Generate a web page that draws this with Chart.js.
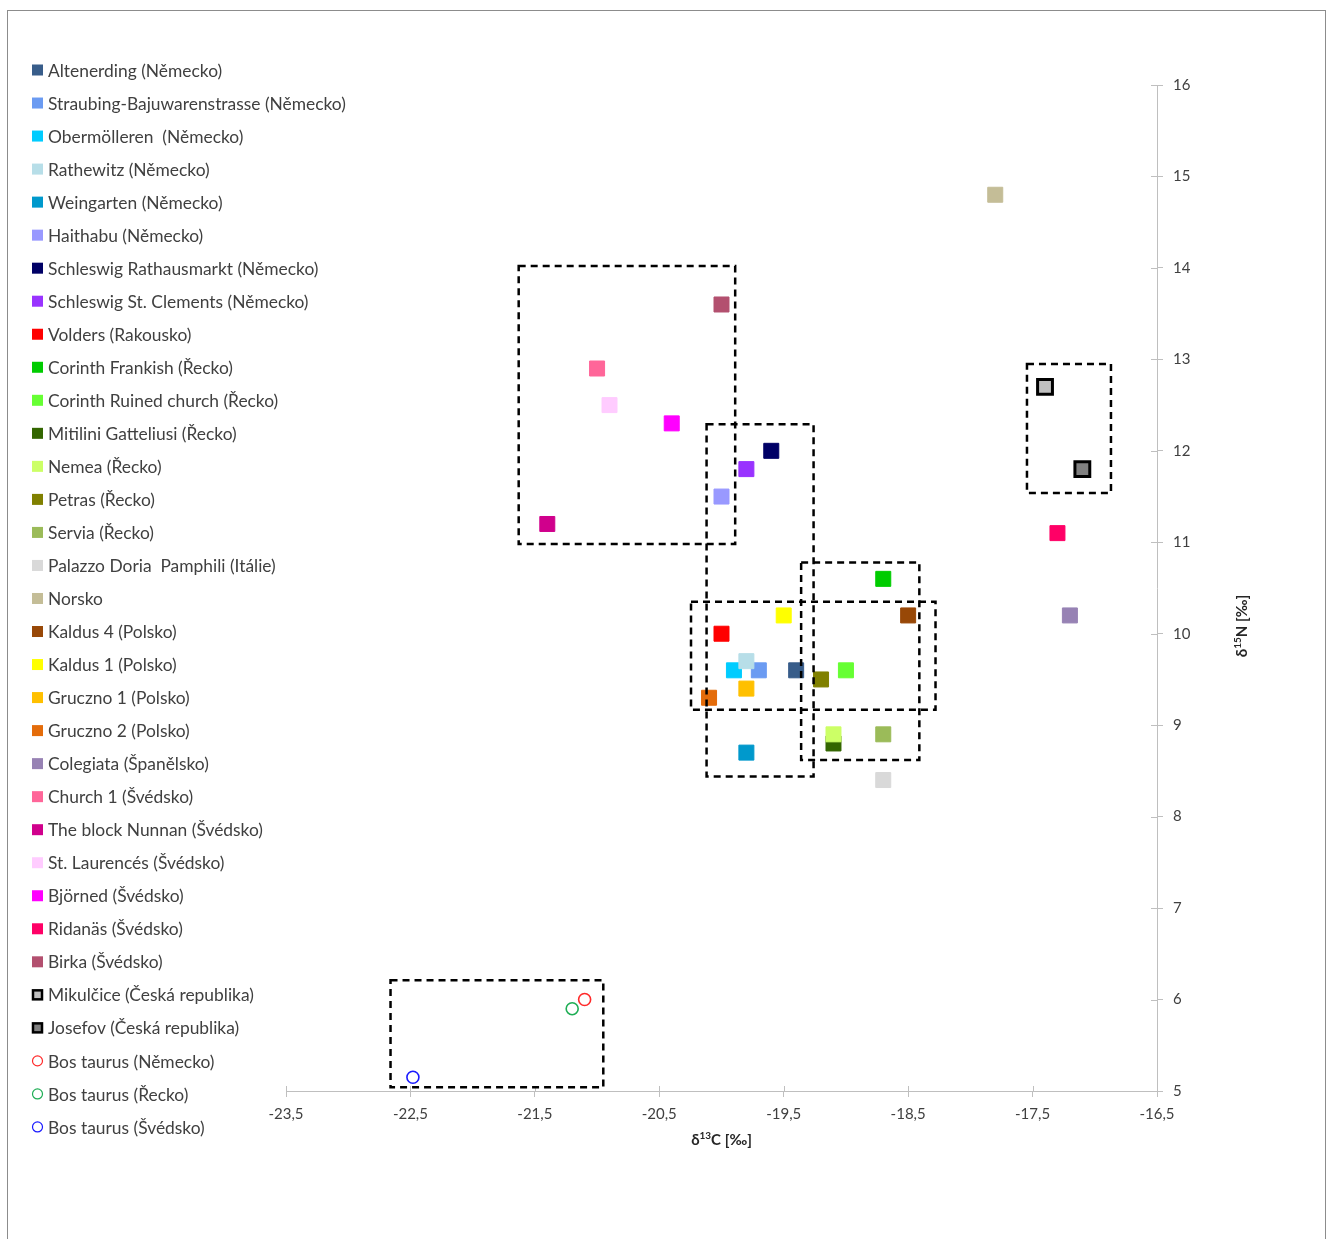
<!DOCTYPE html>
<html>
<head>
<meta charset="utf-8">
<script src="https://cdn.jsdelivr.net/npm/chart.js@4.4.1/dist/chart.umd.min.js"></script>
<style>
  html, body { margin: 0; padding: 0; background: #ffffff; }
  #wrap { position: relative; width: 1331px; height: 1239px; overflow: hidden; }
  #frame { position: absolute; left: 7px; top: 10px; width: 1319px; height: 1300px;
           border: 1px solid #8c8c8c; box-sizing: border-box; }
  #c { position: absolute; left: 0; top: 0; }
</style>
</head>
<body>
<div id="wrap">
  <div id="frame"></div>
  <canvas id="c" width="1331" height="1239"></canvas>
</div>
<script>
// Sites (legend order)
const sites = [
  'Altenerding (Německo)',
  'Straubing-Bajuwarenstrasse (Německo)',
  'Obermölleren  (Německo)',
  'Rathewitz (Německo)',
  'Weingarten (Německo)',
  'Haithabu (Německo)',
  'Schleswig Rathausmarkt (Německo)',
  'Schleswig St. Clements (Německo)',
  'Volders (Rakousko)',
  'Corinth Frankish (Řecko)',
  'Corinth Ruined church (Řecko)',
  'Mitilini Gatteliusi (Řecko)',
  'Nemea (Řecko)',
  'Petras (Řecko)',
  'Servia (Řecko)',
  'Palazzo Doria  Pamphili (Itálie)',
  'Norsko',
  'Kaldus 4 (Polsko)',
  'Kaldus 1 (Polsko)',
  'Gruczno 1 (Polsko)',
  'Gruczno 2 (Polsko)',
  'Colegiata (Španělsko)',
  'Church 1 (Švédsko)',
  'The block Nunnan (Švédsko)',
  'St. Laurencés (Švédsko)',
  'Björned (Švédsko)',
  'Ridanäs (Švédsko)',
  'Birka (Švédsko)',
  'Mikulčice (Česká republika)',
  'Josefov (Česká republika)',
  'Bos taurus (Německo)',
  'Bos taurus (Řecko)',
  'Bos taurus (Švédsko)'
];

// δ13C values [‰]
const d13C = [
  -19.4, -19.7, -19.9, -19.8, -19.8, -20.0, -19.6, -19.8, -20.0, -18.7,
  -19.0, -19.1, -19.1, -19.2, -18.7, -18.7, -17.8, -18.5, -19.5, -19.8,
  -20.1, -17.2, -21.0, -21.4, -20.9, -20.4, -17.3, -20.0, -17.4, -17.1,
  -21.1, -21.2, -22.48
];

// δ15N values [‰]
const d15N = [
  9.6, 9.6, 9.6, 9.7, 8.7, 11.5, 12.0, 11.8, 10.0, 10.6,
  9.6, 8.8, 8.9, 9.5, 8.9, 8.4, 14.8, 10.2, 10.2, 9.4,
  9.3, 10.2, 12.9, 11.2, 12.5, 12.3, 11.1, 13.6, 12.7, 11.8,
  6.0, 5.9, 5.15
];

// Marker colours per site
const colors = [
  '#385d8a', '#6b9bf2', '#00ccff', '#b7dee8', '#0099cc', '#9999ff', '#000066', '#9933ff', '#ff0000', '#00cc00',
  '#66ff33', '#336600', '#ccff66', '#808000', '#9bbb59', '#d9d9d9', '#c4bd97', '#984807', '#ffff00', '#ffc000',
  '#e46c0a', '#9782b4', '#ff6699', '#d0008c', '#ffccff', '#ff00ff', '#ff0066', '#b3506f', '#c0c0c0', '#808080',
  '#ff2a2a', '#1fae55', '#1a1aff'
];

// Marker kinds: 'sq' filled square, 'box' square with black frame, 'ring' hollow circle
const kinds = sites.map((s, i) => i >= 30 ? 'ring' : (i >= 28 ? 'box' : 'sq'));

// Axis ticks
const xTickValues = [-23.5, -22.5, -21.5, -20.5, -19.5, -18.5, -17.5, -16.5];
const yTickValues = [5, 6, 7, 8, 9, 10, 11, 12, 13, 14, 15, 16];

// Dashed group outlines [x1, x2, y1, y2] in data units
const groupBoxes = [
  [-21.63, -19.89, 10.98, 14.02],
  [-20.12, -19.26, 8.44, 12.29],
  [-20.245, -18.28, 9.17, 10.35],
  [-19.36, -18.41, 8.62, 10.78],
  [-17.545, -16.87, 11.54, 12.95],
  [-22.66, -20.95, 5.04, 6.21]
];

const FONT = 'Lato, "Open Sans", "DejaVu Sans", sans-serif';
const TEXT = '#404040';
const AXIS = '#bfbfbf';

const fmt = v => String(v).replace('.', ',');

const datasets = sites.map((name, i) => {
  const k = kinds[i];
  const base = {
    label: name,
    data: [{ x: d13C[i], y: d15N[i] }],
    order: -i
  };
  if (k === 'ring') {
    return Object.assign(base, {
      pointStyle: 'circle', pointRadius: 6,
      backgroundColor: 'rgba(255,255,255,0)', borderColor: colors[i], borderWidth: 1.6
    });
  }
  if (k === 'box') {
    return Object.assign(base, {
      pointStyle: 'rect', pointRadius: 10.5,
      backgroundColor: colors[i], borderColor: '#000000', borderWidth: 3
    });
  }
  return Object.assign(base, {
    pointStyle: 'rect', pointRadius: 10.6,
    backgroundColor: colors[i], borderColor: colors[i], borderWidth: 1
  });
});

// Inward halves of the axis tick marks, dashed group outlines, axis titles, legend
const overlay = {
  id: 'overlay',
  afterDatasetsDraw(chart) {
    const ctx = chart.ctx;
    const xs = chart.scales.x, ys = chart.scales.y;
    ctx.save();
    ctx.strokeStyle = AXIS;
    ctx.lineWidth = 1;
    ctx.beginPath();
    xTickValues.forEach(v => {
      const px = Math.round(xs.getPixelForValue(v)) + 0.5;
      ctx.moveTo(px, ys.bottom - 5); ctx.lineTo(px, ys.bottom);
    });
    yTickValues.forEach(v => {
      const py = Math.round(ys.getPixelForValue(v)) + 0.5;
      ctx.moveTo(xs.right - 6, py); ctx.lineTo(xs.right, py);
    });
    ctx.stroke();

    ctx.strokeStyle = '#000000';
    ctx.lineWidth = 2.5;
    ctx.setLineDash([7, 5]);
    groupBoxes.forEach(b => {
      const x1 = xs.getPixelForValue(b[0]), x2 = xs.getPixelForValue(b[1]);
      const y1 = ys.getPixelForValue(b[3]), y2 = ys.getPixelForValue(b[2]);
      ctx.strokeRect(x1, y1, x2 - x1, y2 - y1);
    });
    ctx.restore();
  },
  afterDraw(chart) {
    const ctx = chart.ctx;
    const xs = chart.scales.x;
    const drawTitle = (sup, letter, cx, cy, rot) => {
      ctx.save();
      ctx.translate(cx, cy);
      ctx.rotate(rot);
      ctx.fillStyle = '#262626';
      ctx.textBaseline = 'alphabetic';
      const big = 'bold 15px ' + FONT, small = 'bold 10px ' + FONT;
      ctx.font = big; const w1 = ctx.measureText('δ').width;
      const rest = letter + ' [‰]'; const w3 = ctx.measureText(rest).width;
      ctx.font = small; const w2 = ctx.measureText(sup).width;
      let x = -(w1 + w2 + w3) / 2;
      ctx.font = big; ctx.fillText('δ', x, 5.5); x += w1;
      ctx.font = small; ctx.fillText(sup, x, -0.5); x += w2;
      ctx.font = big; ctx.fillText(rest, x, 5.5);
      ctx.restore();
    };
    drawTitle('13', 'C', (xs.left + xs.right) / 2, 1139, 0);
    drawTitle('15', 'N', 1241, 626, -Math.PI / 2);

    // Legend column on the left
    ctx.save();
    ctx.font = '17.4px ' + FONT;
    ctx.textBaseline = 'middle';
    chart.data.datasets.forEach((ds, i) => {
      const y = 70 + i * 33.03;
      const k = kinds[i];
      if (k === 'ring') {
        ctx.beginPath();
        ctx.arc(37.5, y, 5, 0, Math.PI * 2);
        ctx.strokeStyle = ds.borderColor; ctx.lineWidth = 1.2; ctx.stroke();
      } else if (k === 'box') {
        ctx.fillStyle = ds.backgroundColor;
        ctx.fillRect(33, y - 4.5, 9, 9);
        ctx.strokeStyle = '#000000'; ctx.lineWidth = 2.5;
        ctx.strokeRect(33, y - 4.5, 9, 9);
      } else {
        ctx.fillStyle = ds.backgroundColor;
        ctx.fillRect(32, y - 5.5, 11, 11);
      }
      ctx.fillStyle = TEXT;
      ctx.fillText(ds.label, 48, y + 1);
    });
    ctx.restore();
  }
};

new Chart(document.getElementById('c'), {
  type: 'scatter',
  data: { datasets },
  options: {
    responsive: false,
    animation: false,
    devicePixelRatio: 1,
    layout: { padding: { left: 286, top: 85, right: 0, bottom: 0 } },
    plugins: { legend: { display: false }, tooltip: { enabled: false } },
    elements: { point: { hoverRadius: 10.6 } },
    scales: {
      x: {
        type: 'linear', position: 'bottom', min: -23.5, max: -16.5,
        afterBuildTicks: s => { s.ticks = xTickValues.map(v => ({ value: v })); },
        afterFit: s => { s.height = 148; },
        grid: { display: true, drawOnChartArea: false, drawTicks: true, tickLength: 6, color: AXIS },
        border: { display: true, color: AXIS, width: 1 },
        ticks: { callback: v => fmt(v), color: TEXT, font: { family: FONT, size: 15 }, padding: 8, maxRotation: 0 }
      },
      y: {
        type: 'linear', position: 'right', min: 5, max: 16,
        afterBuildTicks: s => { s.ticks = yTickValues.map(v => ({ value: v })); },
        afterFit: s => { s.width = 174; },
        grid: { display: true, drawOnChartArea: false, drawTicks: true, tickLength: 6, color: AXIS },
        border: { display: true, color: AXIS, width: 1 },
        ticks: { callback: v => fmt(v), color: TEXT, font: { family: FONT, size: 15 }, padding: 10 }
      }
    }
  },
  plugins: [overlay]
});
</script>
</body>
</html>
